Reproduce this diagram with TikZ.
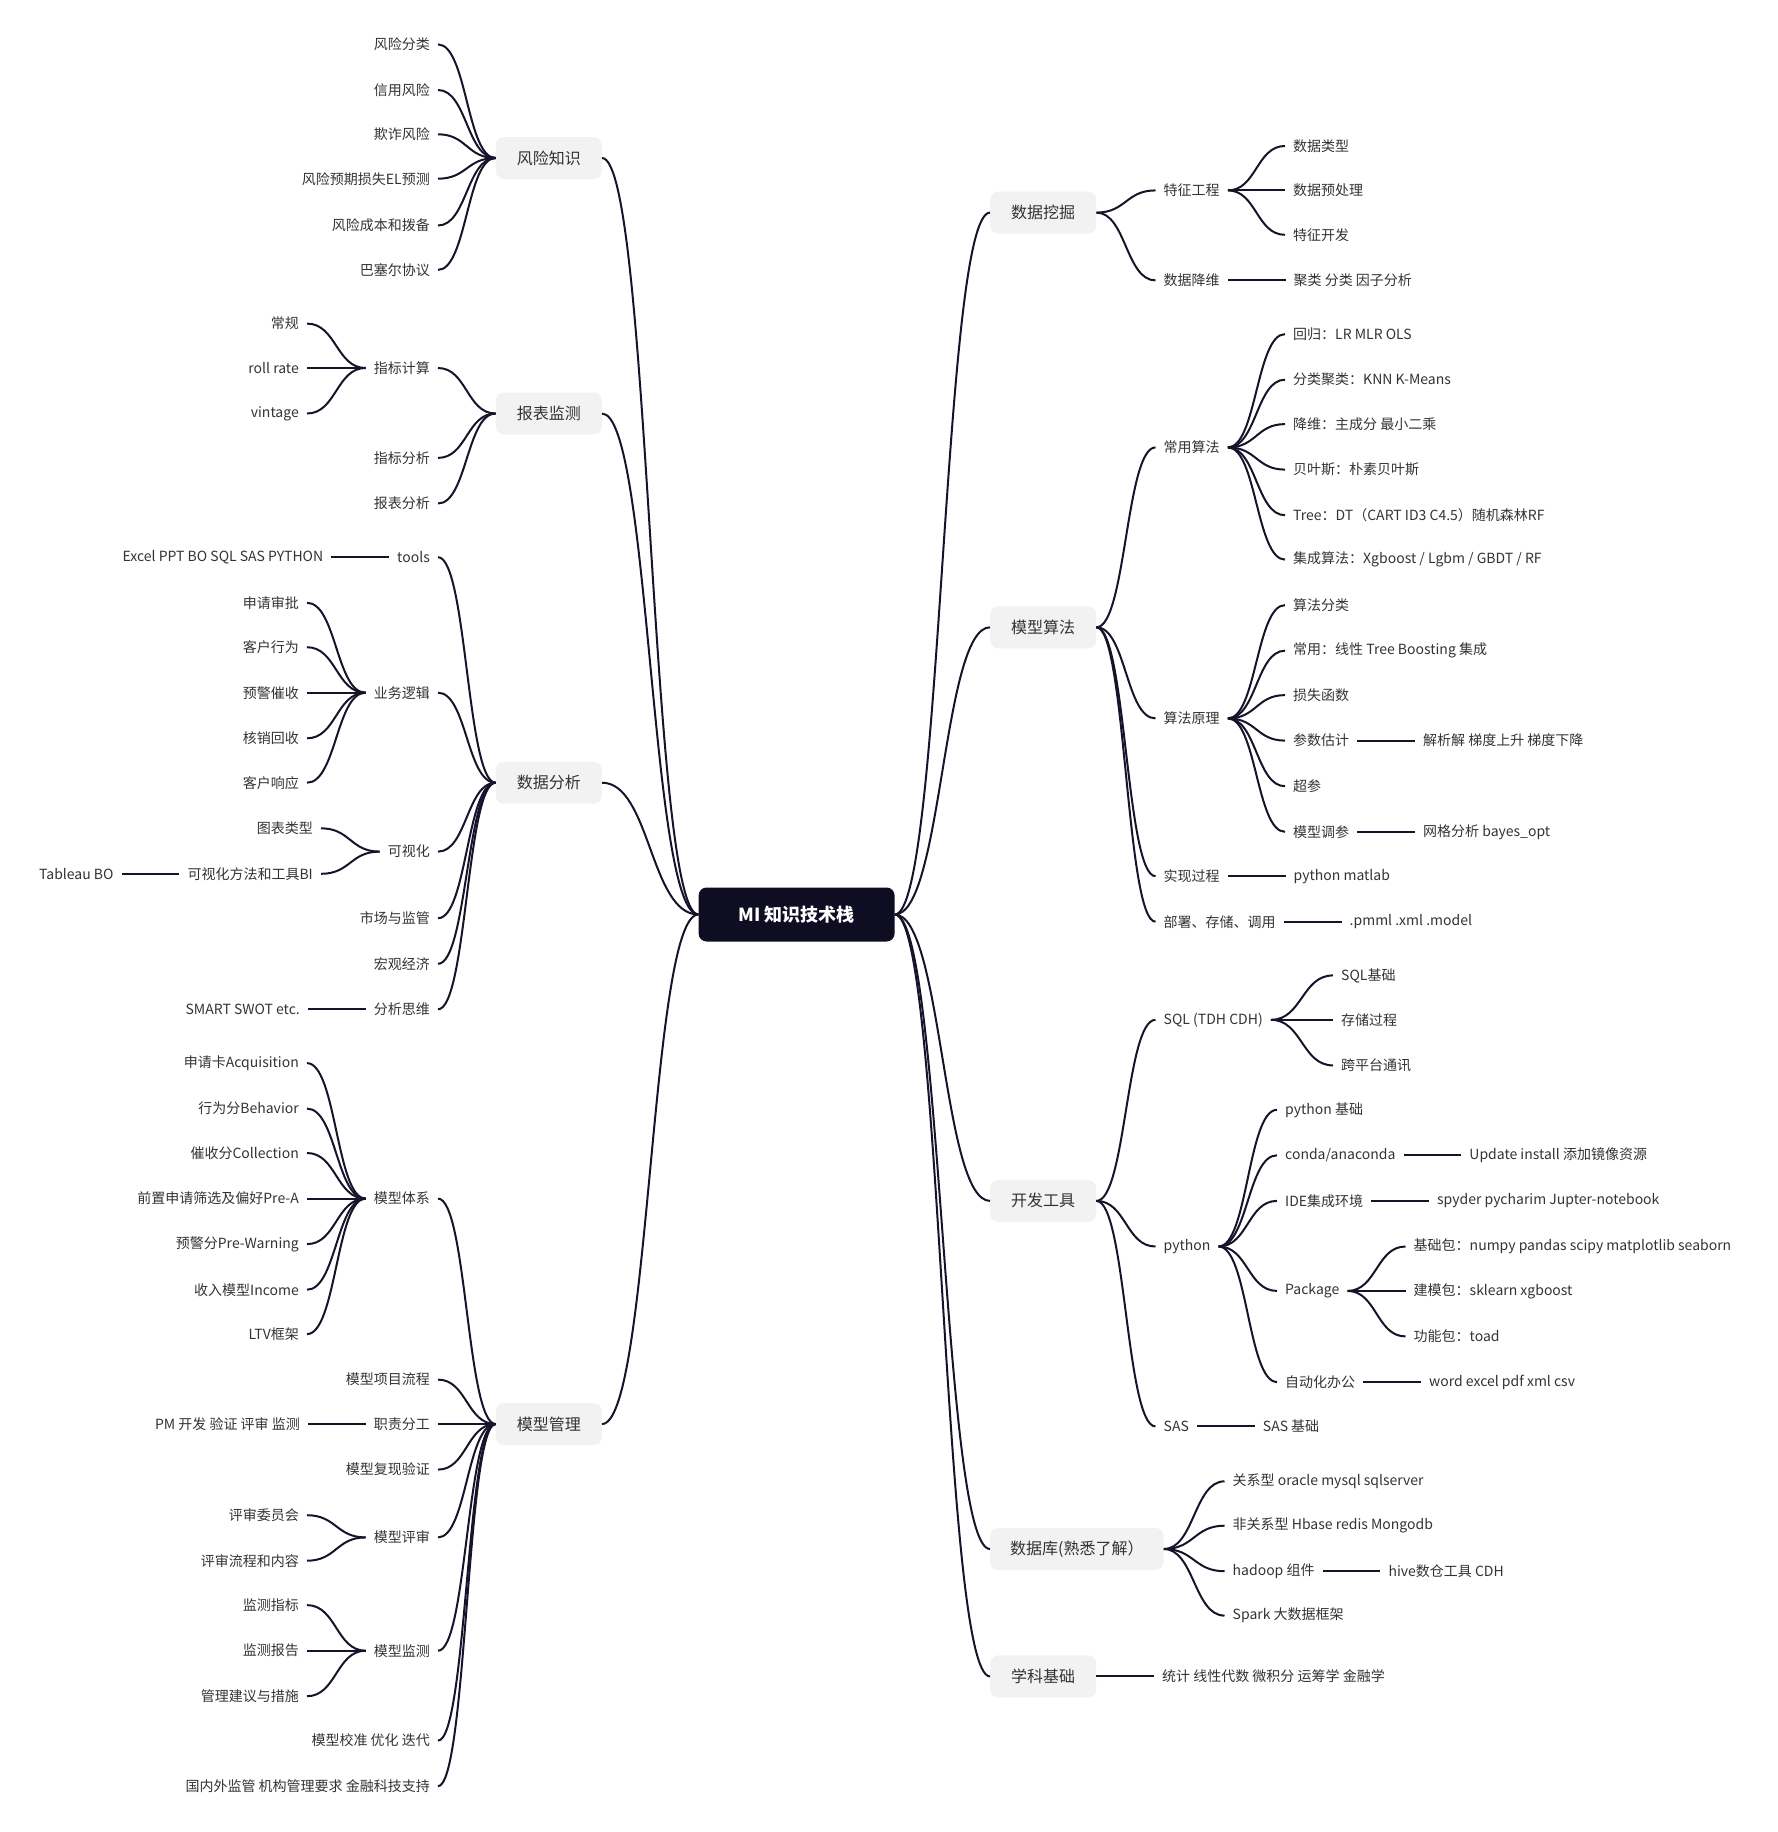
\documentclass[tikz,border=0pt]{standalone}
\usepackage{fontspec}
\setmainfont{Noto Sans CJK SC}
\usepackage{xcolor}
\usepackage{tikz}
\usetikzlibrary{positioning, calc}
\definecolor{linkc}{HTML}{16142B}
\definecolor{hubbg}{HTML}{0F0D22}
\definecolor{topicbg}{HTML}{F2F2F3}
\definecolor{inkc}{HTML}{333333}

\begin{document}
\begin{tikzpicture}[
  x=1pt, y=-1pt,
  node distance=57.6pt,
  hub/.style={fill=hubbg, text=white, rounded corners=8pt, minimum width=196pt, minimum height=54pt, font=\fontsize{18}{22}\selectfont\bfseries},
  topic/.style={fill=topicbg, text=inkc, rounded corners=8pt, minimum width=106pt, minimum height=42pt, inner xsep=20pt, font=\fontsize{16}{19}\selectfont},
  leaf/.style={text=inkc, inner xsep=8pt, inner ysep=2pt, font=\fontsize{14}{17}\selectfont},
  ltext/.style={leaf, anchor=east},
  rtext/.style={leaf, anchor=west},
  br/.style={draw=linkc, line width=2pt, to path={let \p1=(\tikztostart), \p2=(\tikztotarget) in .. controls ({0.5*\x1+0.5*\x2},\y1) and ({0.5*\x1+0.5*\x2},\y2) .. (\tikztotarget)}}
]
\useasboundingbox (0,0) rectangle (1778,1832);

\node[hub] (hub) at (796.6,914.5) {MI 知识技术栈};

% left branches
\node[topic, anchor=east] (fxzs) at (602,158) {风险知识};
\node[topic, anchor=east] (bbjc) at (602,413.5) {报表监测};
\node[topic, anchor=east] (sjfx) at (602,782.7) {数据分析};
\node[topic, anchor=east] (mxgl) at (602,1424) {模型管理};

\node[ltext] (fxfl) at (438,44.4) {风险分类};
\node[ltext] (xyfx) at (438,90) {信用风险};
\node[ltext] (qzfx) at (438,134.3) {欺诈风险};
\node[ltext] (elyc) at (438,178.7) {风险预期损失EL预测};
\node[ltext] (cbbb) at (438,225.5) {风险成本和拨备};
\node[ltext] (bsexy) at (438,269.9) {巴塞尔协议};

\node[ltext] (zbjs) at (438,368) {指标计算};
\node[ltext] (zbfx) at (438,457.9) {指标分析};
\node[ltext] (bbfx) at (438,503.5) {报表分析};
\node[ltext] (cg) at (307,323.6) {常规};
\node[ltext] (rr) at (307,368) {roll rate};
\node[ltext] (vtg) at (307,413.5) {vintage};

\node[ltext] (tools) at (438,557.2) {tools};
\node[ltext, left=of tools] (tlist) {Excel PPT BO SQL SAS PYTHON};
\node[ltext] (ywlj) at (438,692.7) {业务逻辑};
\node[ltext] (sqsp) at (307,602.8) {申请审批};
\node[ltext] (khxw) at (307,647.2) {客户行为};
\node[ltext] (yjcs) at (307,692.7) {预警催收};
\node[ltext] (hxhs) at (307,738.3) {核销回收};
\node[ltext] (khxy) at (307,782.7) {客户响应};
\node[ltext] (ksh) at (438,851.6) {可视化};
\node[ltext] (tblx) at (321,828.3) {图表类型};
\node[ltext] (kshff) at (321,873.8) {可视化方法和工具BI};
\node[ltext, left=of kshff] (tabl) {Tableau BO};
\node[ltext] (scjg) at (438,918.2) {市场与监管};
\node[ltext] (hgjj) at (438,963.8) {宏观经济};
\node[ltext] (fxsw) at (438,1009.3) {分析思维};
\node[ltext, left=of fxsw] (swot) {SMART SWOT etc.};

\node[ltext] (mxtx) at (438,1198.6) {模型体系};
\node[ltext] (acq) at (307,1063.1) {申请卡Acquisition};
\node[ltext] (beh) at (307,1108.6) {行为分Behavior};
\node[ltext] (col) at (307,1153) {催收分Collection};
\node[ltext] (prea) at (307,1198.6) {前置申请筛选及偏好Pre-A};
\node[ltext] (prew) at (307,1244.1) {预警分Pre-Warning};
\node[ltext] (inc) at (307,1289.7) {收入模型Income};
\node[ltext] (ltv) at (307,1334.1) {LTV框架};
\node[ltext] (xmlc) at (438,1379.6) {模型项目流程};
\node[ltext] (zzfg) at (438,1424) {职责分工};
\node[ltext, left=of zzfg] (pmlist) {PM 开发 验证 评审 监测};
\node[ltext] (fxyz) at (438,1469.6) {模型复现验证};
\node[ltext] (mxps) at (438,1537.4) {模型评审};
\node[ltext] (pswy) at (307,1515.2) {评审委员会};
\node[ltext] (psnr) at (307,1560.7) {评审流程和内容};
\node[ltext] (mxjc) at (438,1650.7) {模型监测};
\node[ltext] (jczb) at (307,1605.1) {监测指标};
\node[ltext] (jcbg) at (307,1650.7) {监测报告};
\node[ltext] (glcs) at (307,1696.2) {管理建议与措施};
\node[ltext] (mxjz) at (438,1740.6) {模型校准 优化 迭代};
\node[ltext] (gnwjg) at (438,1786.2) {国内外监管 机构管理要求 金融科技支持};

% right branches
\node[topic, anchor=west] (sjwj) at (990,212.6) {数据挖掘};
\node[topic, anchor=west] (mxsf) at (990,627.3) {模型算法};
\node[topic, anchor=west] (kfgj) at (990,1200.9) {开发工具};
\node[topic, anchor=west] (sjk) at (990,1549) {数据库(熟悉了解）};
\node[topic, anchor=west] (xkjc) at (990,1676.4) {学科基础};

\node[rtext] (tzgc) at (1155.5,190.4) {特征工程};
\node[rtext] (sjlx) at (1285,146) {数据类型};
\node[rtext] (sjycl) at (1285,190.4) {数据预处理};
\node[rtext] (tzkf) at (1285,234.8) {特征开发};
\node[rtext] (sjjw) at (1155.5,280.4) {数据降维};
\node[rtext, right=of sjjw] (jlfl) {聚类 分类 因子分析};

\node[rtext] (cysf) at (1155.5,447.4) {常用算法};
\node[rtext] (hg) at (1285,334.1) {回归：LR MLR OLS};
\node[rtext] (fljl) at (1285,379.7) {分类聚类：KNN K-Means};
\node[rtext] (jw) at (1285,424.1) {降维：主成分 最小二乘};
\node[rtext] (byes) at (1285,469.6) {贝叶斯：朴素贝叶斯};
\node[rtext] (tree) at (1285,515.2) {Tree：DT（CART ID3 C4.5）随机森林RF};
\node[rtext] (jcsf) at (1285,559.6) {集成算法：Xgboost / Lgbm / GBDT / RF};
\node[rtext] (sfyl) at (1155.5,718.4) {算法原理};
\node[rtext] (sffl) at (1285,605.1) {算法分类};
\node[rtext] (cyxx) at (1285,650.7) {常用：线性 Tree Boosting 集成};
\node[rtext] (sshs) at (1285,695.1) {损失函数};
\node[rtext] (csgj) at (1285,740.6) {参数估计};
\node[rtext, right=of csgj] (jxj) {解析解 梯度上升 梯度下降};
\node[rtext] (cc) at (1285,786.2) {超参};
\node[rtext] (mxtc) at (1285,831.8) {模型调参};
\node[rtext, right=of mxtc] (wgfx) {网格分析 bayes\_opt};
\node[rtext] (sxgc) at (1155.5,876.2) {实现过程};
\node[rtext, right=of sxgc] (pym) {python matlab};
\node[rtext] (bscc) at (1155.5,921.7) {部署、存储、调用};
\node[rtext, right=of bscc] (pmml) {.pmml .xml .model};

\node[rtext] (sql) at (1155.5,1019.8) {SQL (TDH CDH)};
\node[rtext] (sqljc) at (1333,975.4) {SQL基础};
\node[rtext] (ccgc) at (1333,1019.8) {存储过程};
\node[rtext] (kpt) at (1333,1065.4) {跨平台通讯};
\node[rtext] (py) at (1155.5,1246.5) {python};
\node[rtext] (pyjc) at (1277,1109.8) {python 基础};
\node[rtext] (conda) at (1277,1155.3) {conda/anaconda};
\node[rtext, right=of conda] (condax) {Update install 添加镜像资源};
\node[rtext] (ide) at (1277,1200.9) {IDE集成环境};
\node[rtext, right=of ide] (idex) {spyder pycharim Jupter-notebook};
\node[rtext] (pkg) at (1277,1290.9) {Package};
\node[rtext] (jcb) at (1405.5,1246.5) {基础包：numpy pandas scipy matplotlib seaborn};
\node[rtext] (jmb) at (1405.5,1290.9) {建模包：sklearn xgboost};
\node[rtext] (gnb) at (1405.5,1336.4) {功能包：toad};
\node[rtext] (zdh) at (1277,1382) {自动化办公};
\node[rtext, right=of zdh] (zdhx) {word excel pdf xml csv};
\node[rtext] (sas) at (1155.5,1426.4) {SAS};
\node[rtext, right=of sas] (sasjc) {SAS 基础};

\node[rtext] (gxx) at (1224.5,1481.3) {关系型 oracle mysql sqlserver};
\node[rtext] (fgx) at (1224.5,1525.7) {非关系型 Hbase redis Mongodb};
\node[rtext] (hdp) at (1224.5,1571.2) {hadoop 组件};
\node[rtext, right=of hdp] (hive) {hive数仓工具 CDH};
\node[rtext] (spark) at (1224.5,1615.6) {Spark 大数据框架};

\node[rtext, right=of xkjc] (xkx) {统计 线性代数 微积分 运筹学 金融学};

% connectors
\draw[br] (hub.west) to (fxzs.east);
\draw[br] (hub.west) to (bbjc.east);
\draw[br] (hub.west) to (sjfx.east);
\draw[br] (hub.west) to (mxgl.east);
\draw[br] (hub.east) to (sjwj.west);
\draw[br] (hub.east) to (mxsf.west);
\draw[br] (hub.east) to (kfgj.west);
\draw[br] (hub.east) to (sjk.west);
\draw[br] (hub.east) to (xkjc.west);

\draw[br] (fxzs.west) to (fxfl.east);
\draw[br] (fxzs.west) to (xyfx.east);
\draw[br] (fxzs.west) to (qzfx.east);
\draw[br] (fxzs.west) to (elyc.east);
\draw[br] (fxzs.west) to (cbbb.east);
\draw[br] (fxzs.west) to (bsexy.east);

\draw[br] (bbjc.west) to (zbjs.east);
\draw[br] (bbjc.west) to (zbfx.east);
\draw[br] (bbjc.west) to (bbfx.east);
\draw[br] (zbjs.west) to (cg.east);
\draw[br] (zbjs.west) to (rr.east);
\draw[br] (zbjs.west) to (vtg.east);

\draw[br] (sjfx.west) to (tools.east);
\draw[br] (sjfx.west) to (ywlj.east);
\draw[br] (sjfx.west) to (ksh.east);
\draw[br] (sjfx.west) to (scjg.east);
\draw[br] (sjfx.west) to (hgjj.east);
\draw[br] (sjfx.west) to (fxsw.east);
\draw[br] (tools.west) to (tlist.east);
\draw[br] (ywlj.west) to (sqsp.east);
\draw[br] (ywlj.west) to (khxw.east);
\draw[br] (ywlj.west) to (yjcs.east);
\draw[br] (ywlj.west) to (hxhs.east);
\draw[br] (ywlj.west) to (khxy.east);
\draw[br] (ksh.west) to (tblx.east);
\draw[br] (ksh.west) to (kshff.east);
\draw[br] (kshff.west) to (tabl.east);
\draw[br] (fxsw.west) to (swot.east);

\draw[br] (mxgl.west) to (mxtx.east);
\draw[br] (mxgl.west) to (xmlc.east);
\draw[br] (mxgl.west) to (zzfg.east);
\draw[br] (mxgl.west) to (fxyz.east);
\draw[br] (mxgl.west) to (mxps.east);
\draw[br] (mxgl.west) to (mxjc.east);
\draw[br] (mxgl.west) to (mxjz.east);
\draw[br] (mxgl.west) to (gnwjg.east);
\draw[br] (mxtx.west) to (acq.east);
\draw[br] (mxtx.west) to (beh.east);
\draw[br] (mxtx.west) to (col.east);
\draw[br] (mxtx.west) to (prea.east);
\draw[br] (mxtx.west) to (prew.east);
\draw[br] (mxtx.west) to (inc.east);
\draw[br] (mxtx.west) to (ltv.east);
\draw[br] (zzfg.west) to (pmlist.east);
\draw[br] (mxps.west) to (pswy.east);
\draw[br] (mxps.west) to (psnr.east);
\draw[br] (mxjc.west) to (jczb.east);
\draw[br] (mxjc.west) to (jcbg.east);
\draw[br] (mxjc.west) to (glcs.east);

\draw[br] (sjwj.east) to (tzgc.west);
\draw[br] (sjwj.east) to (sjjw.west);
\draw[br] (tzgc.east) to (sjlx.west);
\draw[br] (tzgc.east) to (sjycl.west);
\draw[br] (tzgc.east) to (tzkf.west);
\draw[br] (sjjw.east) to (jlfl.west);

\draw[br] (mxsf.east) to (cysf.west);
\draw[br] (mxsf.east) to (sfyl.west);
\draw[br] (mxsf.east) to (sxgc.west);
\draw[br] (mxsf.east) to (bscc.west);
\draw[br] (cysf.east) to (hg.west);
\draw[br] (cysf.east) to (fljl.west);
\draw[br] (cysf.east) to (jw.west);
\draw[br] (cysf.east) to (byes.west);
\draw[br] (cysf.east) to (tree.west);
\draw[br] (cysf.east) to (jcsf.west);
\draw[br] (sfyl.east) to (sffl.west);
\draw[br] (sfyl.east) to (cyxx.west);
\draw[br] (sfyl.east) to (sshs.west);
\draw[br] (sfyl.east) to (csgj.west);
\draw[br] (sfyl.east) to (cc.west);
\draw[br] (sfyl.east) to (mxtc.west);
\draw[br] (csgj.east) to (jxj.west);
\draw[br] (mxtc.east) to (wgfx.west);
\draw[br] (sxgc.east) to (pym.west);
\draw[br] (bscc.east) to (pmml.west);

\draw[br] (kfgj.east) to (sql.west);
\draw[br] (kfgj.east) to (py.west);
\draw[br] (kfgj.east) to (sas.west);
\draw[br] (sql.east) to (sqljc.west);
\draw[br] (sql.east) to (ccgc.west);
\draw[br] (sql.east) to (kpt.west);
\draw[br] (py.east) to (pyjc.west);
\draw[br] (py.east) to (conda.west);
\draw[br] (py.east) to (ide.west);
\draw[br] (py.east) to (pkg.west);
\draw[br] (py.east) to (zdh.west);
\draw[br] (conda.east) to (condax.west);
\draw[br] (ide.east) to (idex.west);
\draw[br] (pkg.east) to (jcb.west);
\draw[br] (pkg.east) to (jmb.west);
\draw[br] (pkg.east) to (gnb.west);
\draw[br] (zdh.east) to (zdhx.west);
\draw[br] (sas.east) to (sasjc.west);

\draw[br] (sjk.east) to (gxx.west);
\draw[br] (sjk.east) to (fgx.west);
\draw[br] (sjk.east) to (hdp.west);
\draw[br] (sjk.east) to (spark.west);
\draw[br] (hdp.east) to (hive.west);

\draw[br] (xkjc.east) to (xkx.west);
\end{tikzpicture}
\end{document}
